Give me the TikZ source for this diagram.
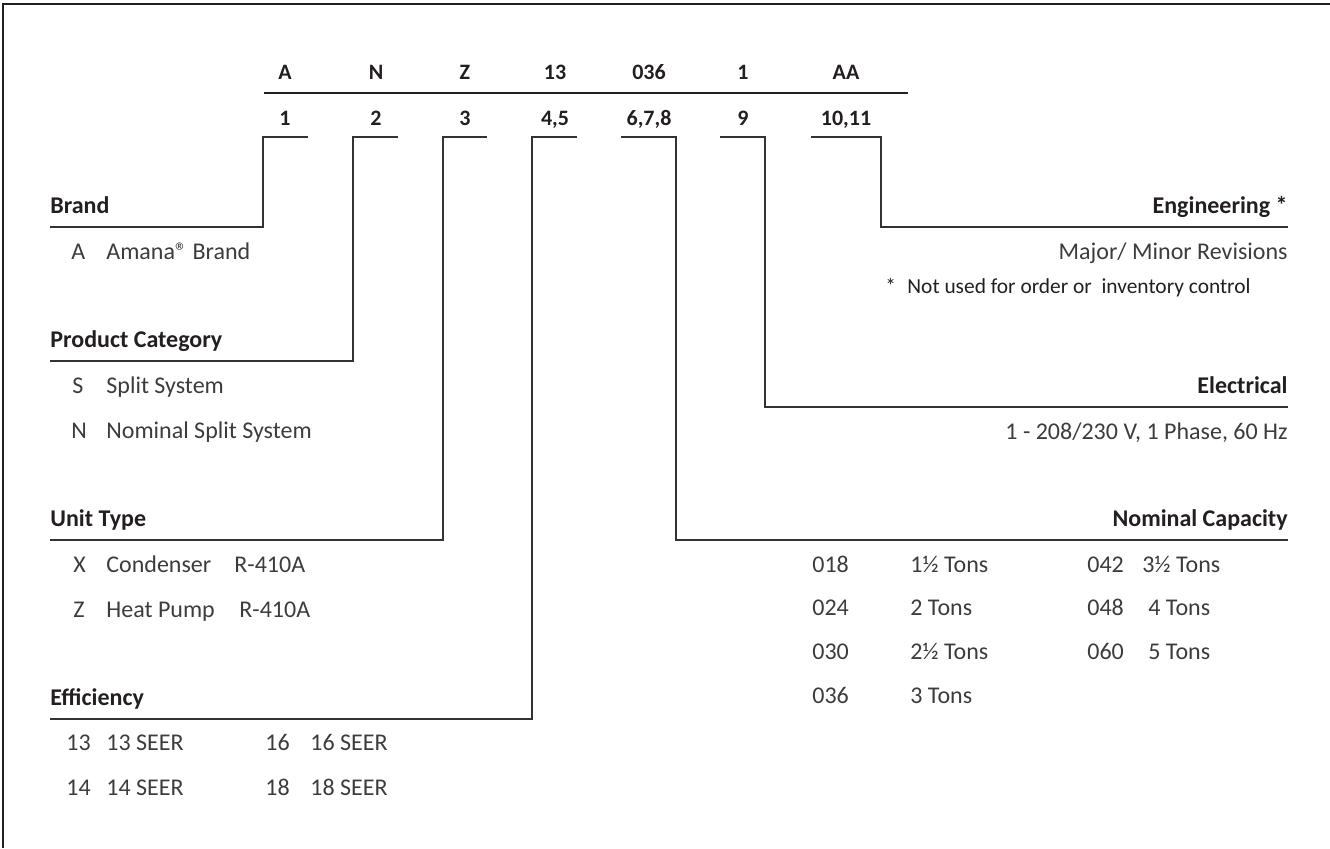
\documentclass[tikz,border=0pt]{standalone}
\usepackage{fontspec}
\setmainfont{Carlito}
\definecolor{ink}{HTML}{231F20}
\definecolor{txt}{HTML}{3C3C3C}
\definecolor{rule}{HTML}{333333}

\begin{document}
\begin{tikzpicture}[
        x=0.5pt, y=-0.5pt,
        frame/.style={line width=1pt, draw=ink},
        toprule/.style={line width=1.4pt, draw=ink},
        link/.style={line width=0.9pt, draw=rule},
        code/.style={font=\fontsize{11}{13}\selectfont\bfseries, text=ink, inner sep=0pt, anchor=base},
        head/.style={font=\fontsize{12}{14}\selectfont\bfseries, text=ink, inner sep=0pt, anchor=base west},
        headR/.style={head, anchor=base east},
        item/.style={font=\fontsize{12}{14}\selectfont, text=txt, inner sep=0pt, anchor=base west},
        itemR/.style={item, anchor=base east},
        note/.style={font=\fontsize{10.7}{13}\selectfont, text=ink, inner sep=0pt, anchor=base west}
    ]

        \useasboundingbox (0,0) rectangle (1330,848);

        % Frame
        \draw[frame] (1330,4) -- (3,4) -- (3,848);

        % Model number and digit positions
        \foreach \x/\c/\p [count=\i] in {285/A/1, 376/N/2, 465/Z/3, 555/13/{4,5},
                649/036/{6,7,8}, 743/1/9, 846/AA/{10,11}} {
            \node[code] (c\i) at (\x,79) {\c};
            \node[code] (p\i) at (\x,125) {\p};
        }
        \coordinate (ruleL) at (264,93);
        \coordinate (ruleR) at (908,93);
        \draw[toprule] (ruleL) -- (ruleR);

        % Bracket tops
        \coordinate (b1l) at (263,137); \coordinate (b1r) at (308,137);
        \coordinate (b2l) at (353,137); \coordinate (b2r) at (398,137);
        \coordinate (b3l) at (443,137); \coordinate (b3r) at (487,137);
        \coordinate (b4l) at (532,137); \coordinate (b4r) at (577,137);
        \coordinate (b5l) at (621,137); \coordinate (b5r) at (676,137);
        \coordinate (b6l) at (720,137); \coordinate (b6r) at (765,137);
        \coordinate (b7l) at (811,137); \coordinate (b7r) at (881,137);

        % Brand
        \node[head] (brand) at (50,213) {Brand};
        \coordinate (brandE) at (50,227);
        \node[item] (brandA) at (71,259) {A};
        \node[item] (brandAt) at (106,259) {Amana® Brand};

        % Product category
        \node[head] (cat) at (50,347) {Product Category};
        \coordinate (catE) at (50,361);
        \node[item] (catS) at (72,393) {S};
        \node[item] (catSt) at (106,393) {Split System};
        \node[item] (catN) at (71,438) {N};
        \node[item] (catNt) at (106,438) {Nominal Split System};

        % Unit type
        \node[head] (unit) at (50,526) {Unit Type};
        \coordinate (unitE) at (50,540);
        \node[item] (unitX) at (73,572) {X};
        \node[item] (unitXt) at (106,572) {Condenser};
        \node[item] (unitXr) at (234,572) {R-410A};
        \node[item] (unitZ) at (73,617) {Z};
        \node[item] (unitZt) at (106,617) {Heat Pump};
        \node[item] (unitZr) at (239,617) {R-410A};

        % Efficiency
        \node[head] (eff) at (50,705) {Efficiency};
        \coordinate (effE) at (50,719);
        \node[item] (eff13) at (66,750) {13};
        \node[item] (eff13t) at (106,750) {13 SEER};
        \node[item] (eff16) at (265,750) {16};
        \node[item] (eff16t) at (310,750) {16 SEER};
        \node[item] (eff14) at (66,795) {14};
        \node[item] (eff14t) at (106,795) {14 SEER};
        \node[item] (eff18) at (265,795) {18};
        \node[item] (eff18t) at (310,795) {18 SEER};

        % Engineering
        \node[headR] (eng) at (1288,213) {Engineering *};
        \coordinate (engE) at (1288,227);
        \node[itemR] (engRev) at (1288,259) {Major/ Minor Revisions};
        \node[note] (engStar) at (885,293) {*};
        \node[note] (engNote) at (907,293) {Not used for order or\ \ inventory control};

        % Electrical
        \node[headR] (elec) at (1288,393) {Electrical};
        \coordinate (elecE) at (1288,407);
        \node[itemR] (elec1) at (1288,439) {1 - 208/230 V, 1 Phase, 60 Hz};

        % Nominal capacity
        \node[headR] (cap) at (1288,526) {Nominal Capacity};
        \coordinate (capE) at (1288,540);
        \node[item] (cap018) at (812,572) {018};
        \node[item] (cap018t) at (910,572) {1½ Tons};
        \node[item] (cap024) at (812,615) {024};
        \node[item] (cap024t) at (910,615) {2 Tons};
        \node[item] (cap030) at (812,659) {030};
        \node[item] (cap030t) at (910,659) {2½ Tons};
        \node[item] (cap036) at (812,703) {036};
        \node[item] (cap036t) at (910,703) {3 Tons};
        \node[item] (cap042) at (1087,572) {042};
        \node[item] (cap042t) at (1142,572) {3½ Tons};
        \node[item] (cap048) at (1087,615) {048};
        \node[item] (cap048t) at (1148,615) {4 Tons};
        \node[item] (cap060) at (1087,659) {060};
        \node[item] (cap060t) at (1148,659) {5 Tons};

        % Leader lines
        \draw[link] (b1r) -- (b1l) |- (brandE);
        \draw[link] (b2r) -- (b2l) |- (catE);
        \draw[link] (b3r) -- (b3l) |- (unitE);
        \draw[link] (b4r) -- (b4l) |- (effE);
        \draw[link] (b5l) -- (b5r) |- (capE);
        \draw[link] (b6l) -- (b6r) |- (elecE);
        \draw[link] (b7l) -- (b7r) |- (engE);

    \end{tikzpicture}
\end{document}
